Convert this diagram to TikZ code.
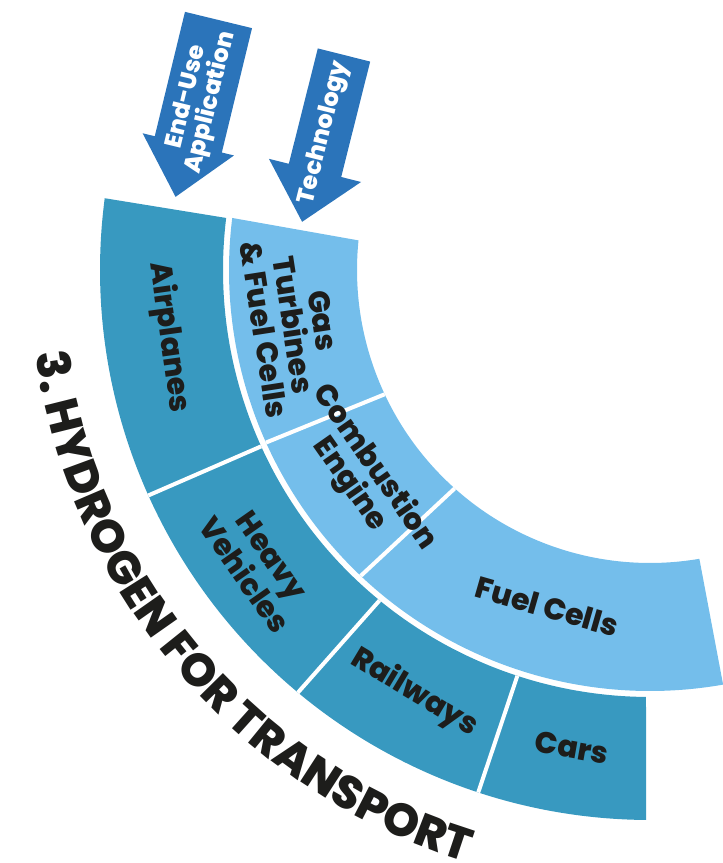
\documentclass[tikz,border=0pt]{standalone}
\usepackage{fontspec}
\setmainfont{Poppins}
\IfFontExistsTF{Poppins ExtraBold}{\newfontfamily\heavyfont{Poppins ExtraBold}}{\newcommand\heavyfont{\bfseries}}
\usetikzlibrary{decorations.text}
\definecolor{arrowblue}{HTML}{2B74BA}
\definecolor{darkband}{HTML}{3899C0}
\definecolor{lightband}{HTML}{74BEEB}
\definecolor{inkblack}{HTML}{1D1D1B}
\newcommand\htitlefont{\heavyfont\fontsize{46}{46}\selectfont\color{inkblack}}
\tikzset{
  seglabel/.style={font=\heavyfont\fontsize{30}{30}\selectfont, text=inkblack, align=center, inner sep=0pt},
  arrowtext/.style={font=\heavyfont\fontsize{24}{25}\selectfont, text=white, align=center, inner sep=0pt},
  divider/.style={draw=white, line width=4pt, line cap=butt},
  blockarrow/.style={fill=arrowblue}
}
\begin{document}
\begin{tikzpicture}[x=1pt,y=1pt]
\useasboundingbox (0,0) rectangle (723,863);
\coordinate (C) at (650,593);
% outer band (end-use applications)
\fill[darkband] ([shift={(172.5:550)}]C) arc[start angle=172.5, end angle=269.6, radius=550]
  -- ([shift={(269.46:427)}]C) arc[start angle=269.46, end angle=173.0, radius=427] -- cycle;
% inner band (technology)
\fill[lightband] ([shift={(172.9:421)}]C) arc[start angle=172.9, end angle=280.0, radius=421]
  -- ([shift={(279.7:293)}]C) arc[start angle=279.7, end angle=174.2, radius=293] -- cycle;
% dividers
\draw[divider] ([shift={(204.2:550)}]C) -- ([shift={(204.4:427)}]C);
\draw[divider] ([shift={(230.2:550)}]C) -- ([shift={(230.7:427)}]C);
\draw[divider] ([shift={(251.8:550)}]C) -- ([shift={(251.9:427)}]C);
\draw[divider] ([shift={(204.2:421)}]C) -- ([shift={(205.1:293)}]C);
\draw[divider] ([shift={(226.6:421)}]C) -- ([shift={(228.2:293)}]C);
% segment labels
\node[seglabel, rotate=278] (airplanes) at ([shift={(188:486)}]C) {Airplanes};
\node[seglabel, rotate=305] (heavy) at ([shift={(217:491)}]C) {Heavy\\Vehicles};
\node[seglabel, rotate=329] (railways) at ([shift={(240.9:484)}]C) {Railways};
\node[seglabel, rotate=350] (cars) at ([shift={(260.7:484)}]C) {Cars};
\node[seglabel, rotate=278.8] (gas) at ([shift={(188.8:361)}]C) {Gas\\Turbines\\\& Fuel Cells};
\node[seglabel, rotate=305] (combustion) at ([shift={(215.6:354)}]C) {Combustion\\Engine};
\node[seglabel, rotate=344] (fuelcells) at ([shift={(253:352)}]C) {Fuel Cells};
% arrows
\coordinate (arrA) at (218.5,843);
\coordinate (arrB) at (344,808);
\fill[blockarrow, shift={(arrA)}, rotate=256.35] (0,34.5) -- (128,34.5) -- (128,47) -- (182,0) -- (128,-47) -- (128,-34.5) -- (0,-34.5) -- cycle;
\fill[blockarrow, shift={(arrB)}, rotate=255.9] (0,27) -- (119,27) -- (119,47.5) -- (172,0) -- (119,-47.5) -- (119,-27) -- (0,-27) -- cycle;
\node[arrowtext, rotate=76.35] (enduse) at ([shift={(256.35:82)}]arrA) {End-Use\\Application};
\node[arrowtext, rotate=75.9] (technology) at ([shift={(255.9:80)}]arrB) {Technology};
% title along the arc
\path[decorate, decoration={text along path, text={|\htitlefont|3. HYDROGEN FOR TRANSPORT}, text align=center}]
  ([shift={(177:620)}]C) arc[start angle=177, end angle=263.5, radius=620];
\end{tikzpicture}
\end{document}
